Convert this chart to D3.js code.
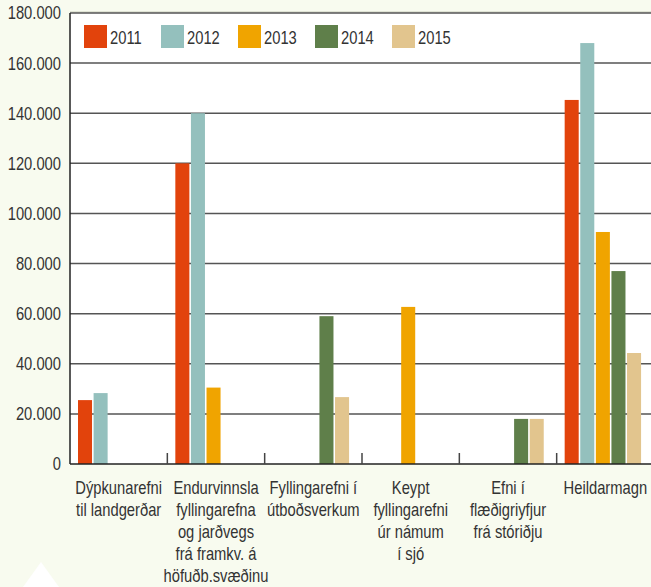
<!DOCTYPE html>
<html>
<head>
<meta charset="utf-8">
<script src="https://cdn.jsdelivr.net/npm/d3@7"></script>
<style>
  html, body { margin: 0; padding: 0; background: #f8fbef; }
  svg { display: block; }
  text { font-family: "Liberation Sans", Arial, sans-serif; fill: #333; }
</style>
</head>
<body>
<div id="chart"></div>
<script>
// Efnismagn eftir uppruna, 2011-2015

const categories = [
  ['Dýpkunarefni', 'til landgerðar'],
  ['Endurvinnsla', 'fyllingarefna', 'og jarðvegs', 'frá framkv. á', 'höfuðb.svæðinu'],
  ['Fyllingarefni í', 'útboðsverkum'],
  ['Keypt', 'fyllingarefni', 'úr námum', 'í sjó'],
  ['Efni í', 'flæðigriyfjur', 'frá stóriðju'],
  ['Heildarmagn']
];
const years = ['2011', '2012', '2013', '2014', '2015'];
const colors = ['#e2430c', '#94c0bd', '#f0a400', '#5f7f4a', '#e2c58e'];

// one array per year, one value per category (0 = no bar)
const v2011 = [25500, 120000, 0, 0, 0, 145300];
const v2012 = [28300, 140000, 0, 0, 0, 168000];
const v2013 = [0, 30500, 0, 62700, 0, 92600];
const v2014 = [0, 0, 59000, 0, 18000, 77000];
const v2015 = [0, 0, 26700, 0, 18000, 44300];
const series = [v2011, v2012, v2013, v2014, v2015];

const yTicks = [0, 20000, 40000, 60000, 80000, 100000, 120000, 140000, 160000, 180000];

const W = 651, H = 587;
const plotL = 70, plotT = 13, plotB = 464;
const SX = 0.82; // condensed look: squeeze the sans horizontally

const svg = d3.select('#chart').append('svg')
  .attr('width', W).attr('height', H);

// decorative triangle bottom-left
svg.append('path')
  .attr('d', 'M41,562 L59,587 L23,587 Z')
  .attr('fill', '#fff');

// plot background
svg.append('rect')
  .attr('x', plotL).attr('y', plotT)
  .attr('width', W - plotL).attr('height', plotB - plotT)
  .attr('fill', '#fff');
svg.append('line')
  .attr('x1', plotL).attr('x2', W).attr('y1', plotT - 1).attr('y2', plotT - 1)
  .attr('stroke', '#c9ccbb').attr('stroke-width', 1);

const keys = categories.map(c => c.join(' '));
const x0 = d3.scaleBand().domain(keys).range([plotL, 654]);
const x1 = d3.scaleBand().domain(years).range([8, 84.4]).paddingInner(0.1);
const y = d3.scaleLinear().domain([0, 180000]).range([plotB, plotT]);

const fmt = d3.formatLocale({ decimal: ',', thousands: '.', grouping: [3], currency: ['', ''] }).format(',');

// gridlines
svg.append('g').selectAll('line')
  .data(yTicks.filter(t => t > 0))
  .join('line')
  .attr('x1', plotL).attr('x2', W)
  .attr('y1', d => y(d)).attr('y2', d => y(d))
  .attr('stroke', '#555').attr('stroke-width', 1.5);

// y labels
svg.append('g').selectAll('text')
  .data(yTicks)
  .join('text')
  .attr('transform', d => `translate(${plotL - 9},${y(d)}) scale(${SX},1)`)
  .attr('dy', '0.36em')
  .attr('text-anchor', 'end')
  .attr('font-size', 18)
  .text(d => fmt(d));

// bars
const groups = svg.append('g').selectAll('g')
  .data(keys)
  .join('g')
  .attr('transform', d => `translate(${x0(d)},0)`);

groups.selectAll('rect')
  .data((d, i) => years.map((yr, j) => ({ yr, j, v: series[j][i] })).filter(b => b.v > 0))
  .join('rect')
  .attr('x', b => x1(b.yr))
  .attr('width', x1.bandwidth())
  .attr('y', b => y(b.v))
  .attr('height', b => y(0) - y(b.v))
  .attr('fill', b => colors[b.j]);

// axes lines
svg.append('line')
  .attr('x1', plotL).attr('x2', plotL).attr('y1', plotT).attr('y2', plotB)
  .attr('stroke', '#222').attr('stroke-width', 1.5);
svg.append('line')
  .attr('x1', plotL).attr('x2', W).attr('y1', plotB).attr('y2', plotB)
  .attr('stroke', '#222').attr('stroke-width', 1.5);

// category separator ticks
svg.append('g').selectAll('line')
  .data(keys.slice(1))
  .join('line')
  .attr('x1', d => x0(d)).attr('x2', d => x0(d))
  .attr('y1', plotB - 11).attr('y2', plotB)
  .attr('stroke', '#444').attr('stroke-width', 1.5);

// category labels
svg.append('g').selectAll('text')
  .data(categories)
  .join('text')
  .attr('transform', (d, i) => `translate(${x0(keys[i]) + x0.bandwidth() / 2},494) scale(${SX},1)`)
  .attr('text-anchor', 'middle')
  .attr('font-size', 18)
  .selectAll('tspan')
  .data(d => d)
  .join('tspan')
  .attr('x', 0)
  .attr('dy', (d, i) => i === 0 ? 0 : 22)
  .text(d => d);

// legend
const legend = svg.append('g').selectAll('g')
  .data(years)
  .join('g')
  .attr('transform', (d, i) => `translate(${84 + i * 77},25)`);
legend.append('rect')
  .attr('width', 23).attr('height', 23)
  .attr('fill', (d, i) => colors[i]);
legend.append('text')
  .attr('transform', `translate(26,19) scale(${SX},1)`)
  .attr('font-size', 18)
  .text(d => d);
</script>
</body>
</html>
